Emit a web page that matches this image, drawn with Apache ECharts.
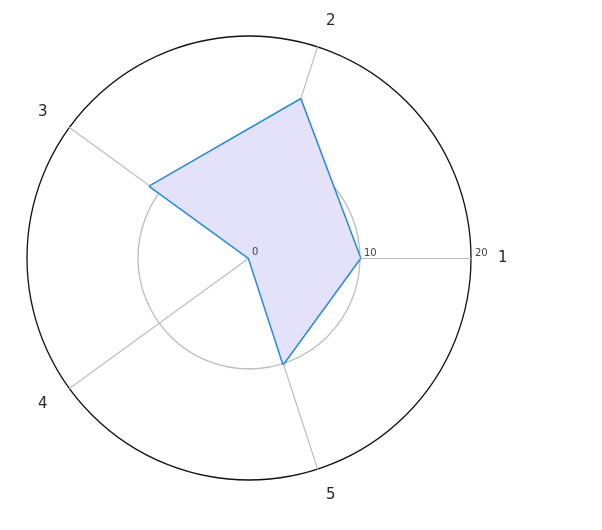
<!DOCTYPE html>
<html><head><meta charset="utf-8">
<script src="https://cdn.jsdelivr.net/npm/echarts@6/dist/echarts.min.js"></script>
<style>html,body{margin:0;padding:0;background:#fff}#c{width:602px;height:530px}</style>
</head><body><div id="c"></div>
<script>
const categories = ['1', '2', '3', '4', '5'];
const values = [10, 15, 11, 0, 10];
const axisMin = 0;
const axisMax = 20;
const CENTER = [249, 258];

const chart = echarts.init(document.getElementById('c'), null, {renderer: 'canvas'});
const indicator = categories.map((c, i) => {
  const o = {name: c, max: axisMax, min: axisMin};
  if (i === 0) o.axisLabel = {show: true, showMinLabel: true, showMaxLabel: true, hideOverlap: false};
  return o;
});
chart.setOption({
  animation: false,
  radar: {
    center: CENTER,
    radius: 222,
    startAngle: 0,
    shape: 'circle',
    splitNumber: 2,
    indicator: indicator,
    axisName: {color: '#262626', fontSize: 15, fontFamily: 'DejaVu Sans'},
    nameGap: 27,
    axisLine: {lineStyle: {color: '#bdbdbd', width: 1.2}},
    splitLine: {lineStyle: {color: ['#bdbdbd', '#bdbdbd', '#111'], width: 1.3}},
    splitArea: {show: false},
    axisTick: {show: false},
    axisLabel: {show: false, showMinLabel: true, hideOverlap: false, color: '#444', fontSize: 10, fontFamily: 'DejaVu Sans', margin: 0, align: 'left', padding: [0, 0, 0, 4]}
  },
  graphic: [{
    type: 'text',
    x: CENTER[0] + 3,
    y: CENTER[1] - 6,
    z: 10,
    style: {text: String(axisMin), fontSize: 10, fontFamily: 'DejaVu Sans', fill: '#444', verticalAlign: 'middle', align: 'left'}
  }],
  series: [{
    type: 'radar',
    symbol: 'none',
    lineStyle: {color: '#2a8bd0', width: 3},
    areaStyle: {color: '#e4e2fb', opacity: 1},
    data: [{value: values}]
  }]
});
</script></body></html>
